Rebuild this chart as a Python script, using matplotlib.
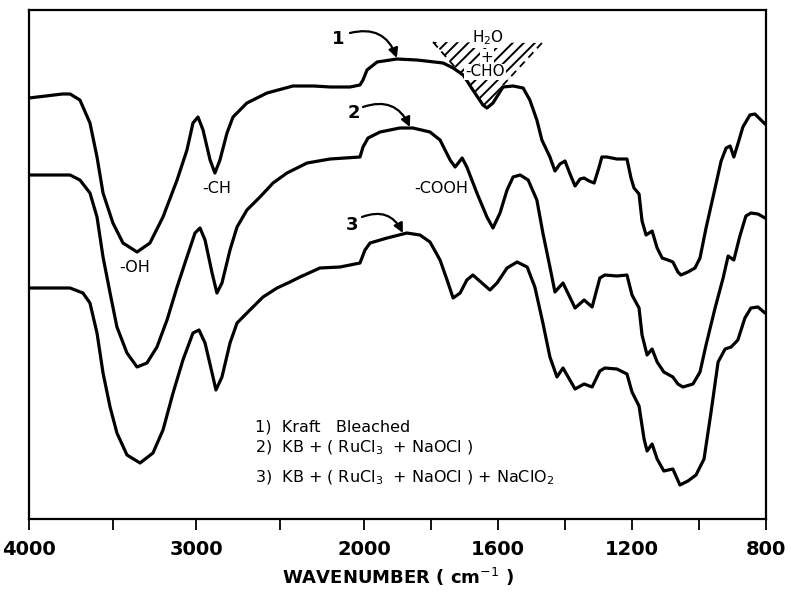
import numpy as np
import matplotlib
matplotlib.use("Agg")
import matplotlib.pyplot as plt
from matplotlib.patches import Polygon

# ---------------- data (wavenumber, cm-1 ; transmittance, arbitrary units) ----------------
wn1 = [4000, 3900, 3800, 3755, 3696, 3636, 3594, 3558, 3499, 3439, 3355, 3278, 3200, 3116,
       3057, 3021, 2991, 2961, 2919, 2890, 2860, 2818, 2782, 2699, 2579, 2424, 2300, 2200,
       2084, 2024, 2006, 1991, 1961, 1902, 1842, 1764, 1734, 1704, 1675, 1645, 1633, 1615,
       1585, 1555, 1525, 1505, 1484, 1469, 1445, 1430, 1415, 1400, 1385, 1370, 1355, 1343,
       1328, 1313, 1299, 1290, 1275, 1245, 1215, 1203, 1194, 1179, 1170, 1158, 1140, 1125,
       1110, 1093, 1078, 1063, 1054, 1033, 1012, 997, 979, 952, 934, 919, 907, 896, 884,
       869, 848, 833, 818, 803]
t1 = [421, 423, 425, 425, 419, 396, 362, 326, 296, 276, 267, 276, 302, 339,
      369, 396, 402, 389, 359, 346, 359, 386, 402, 416, 426, 433, 433, 432,
      432, 434, 439, 449, 457, 460, 459, 456, 451, 444, 429, 414, 411, 416,
      432, 433, 431, 419, 399, 379, 362, 348, 355, 358, 345, 333, 340, 341,
      338, 336, 351, 362, 362, 360, 360, 341, 331, 325, 298, 284, 288, 271,
      261, 259, 257, 247, 244, 247, 251, 261, 291, 331, 358, 371, 373, 362, 375,
      392, 404, 405, 400, 395]

wn2 = [3994, 3900, 3755, 3696, 3636, 3594, 3558, 3516, 3475, 3415, 3355, 3296, 3236, 3176,
       3116, 3057, 3009, 2979, 2949, 2907, 2878, 2848, 2800, 2758, 2699, 2621, 2543, 2460,
       2340, 2203, 2024, 2006, 1988, 1952, 1893, 1854, 1803, 1773, 1743, 1728, 1707, 1693,
       1663, 1633, 1615, 1594, 1573, 1555, 1534, 1510, 1484, 1466, 1445, 1430, 1406, 1370,
       1343, 1319, 1296, 1281, 1245, 1215, 1200, 1179, 1170, 1155, 1140, 1125, 1105, 1078,
       1063, 1048, 1018, 997, 979, 952, 928, 913, 896, 878, 860, 845, 824, 803]
t2 = [344, 344, 344, 339, 326, 302, 262, 226, 192, 166, 152, 156, 172, 199,
      232, 262, 286, 291, 279, 246, 226, 236, 269, 292, 309, 322, 336, 346,
      356, 360, 362, 372, 381, 387, 391, 391, 387, 379, 359, 352, 361, 352,
      326, 302, 291, 306, 329, 342, 344, 339, 319, 286, 252, 227, 236, 211,
      219, 212, 241, 244, 243, 244, 224, 211, 184, 164, 170, 157, 147, 142,
      135, 132, 135, 147, 174, 211, 241, 263, 259, 283, 303, 306, 305, 301]

wn3 = [3994, 3755, 3678, 3636, 3594, 3558, 3516, 3475, 3415, 3337, 3260, 3200, 3140, 3081,
       3021, 2985, 2949, 2907, 2884, 2848, 2800, 2758, 2699, 2603, 2519, 2442, 2382, 2263,
       2143, 2024, 1997, 1982, 1931, 1872, 1833, 1803, 1773, 1752, 1734, 1713, 1693, 1675,
       1648, 1624, 1603, 1573, 1543, 1513, 1490, 1466, 1445, 1424, 1406, 1370, 1343, 1319,
       1296, 1281, 1245, 1215, 1200, 1179, 1164, 1155, 1140, 1125, 1105, 1078, 1057, 1033,
       1009, 985, 964, 943, 922, 904, 884, 863, 845, 824, 803]
t3 = [231, 231, 226, 216, 186, 146, 112, 86, 64, 56, 66, 89, 126, 159,
      186, 189, 176, 146, 129, 142, 176, 196, 206, 222, 231, 237, 242, 251,
      252, 256, 269, 276, 281, 286, 284, 277, 259, 239, 221, 226, 239, 244,
      236, 229, 236, 251, 257, 252, 232, 196, 162, 142, 151, 130, 135, 132,
      148, 151, 150, 145, 127, 113, 80, 68, 75, 60, 48, 50, 34, 38,
      44, 60, 107, 157, 170, 172, 179, 201, 211, 212, 206]

tick_values = [4000, 3500, 3000, 2500, 2000, 1800, 1600, 1400, 1200, 1000, 800]
tick_labels = ["4000", "", "3000", "", "2000", "", "1600", "", "1200", "", "800"]
legend_lines = ["1)  Kraft   Bleached",
                "2)  KB + ( RuCl$_3$  + NaOCl )",
                "3)  KB + ( RuCl$_3$  + NaOCl ) + NaClO$_2$"]


# ---------------- split wavenumber scale (2x expansion below 2000 cm-1) ----------------
def fwd(w):
    w = np.asarray(w, dtype=float)
    return np.where(w >= 2000, w, 2 * w - 2000)


def inv(u):
    u = np.asarray(u, dtype=float)
    return np.where(u >= 2000, u, (u + 2000) / 2)


plt.rcParams["hatch.linewidth"] = 1.4
fig = plt.figure(figsize=(7.91, 5.95), dpi=100)
ax = fig.add_axes([29 / 791, 1 - 519 / 595, (766 - 29) / 791, (519 - 10) / 595])
ax.set_xscale("function", functions=(fwd, inv))
ax.set_xlim(4000, 800)
ax.set_ylim(0, 509)

for wn, t in ((wn1, t1), (wn2, t2), (wn3, t3)):
    ax.plot(wn, t, color="black", lw=2.3, solid_joinstyle="round", solid_capstyle="round")

ax.set_xticks(tick_values)
ax.set_xticklabels(tick_labels, fontsize=14, fontweight="bold")
ax.tick_params(axis="x", direction="out", length=8, width=1.3, pad=7)
ax.set_yticks([])
for s in ax.spines.values():
    s.set_linewidth(1.6)
ax.set_xlabel("WAVENUMBER ( cm$^{-1}$ )", fontsize=13, fontweight="bold", labelpad=5)

# band labels
ax.text(2878, 331, "-CH", fontsize=11.5, ha="center", va="center")
ax.text(3367, 251, "-OH", fontsize=11.5, ha="center", va="center")
ax.text(1770, 331, "-COOH", fontsize=11.5, ha="center", va="center")

# hatched H2O / CHO region
hatch = Polygon([(1794, 477), (1469, 476), (1585, 434), (1633, 411), (1708, 444)],
                closed=True, facecolor="none", edgecolor="black", lw=0, hatch="///")
ax.add_patch(hatch)
ax.plot([1794, 1708], [477, 444], color="black", lw=1.3, ls=(0, (4, 3)))
ax.plot([1469, 1585], [476, 434], color="black", lw=1.3, ls=(0, (4, 3)))
wb = dict(facecolor="white", edgecolor="none", pad=0.5)
ax.text(1630, 481, "H$_2$O", fontsize=11, ha="center", va="center", bbox=wb)
ax.text(1633, 462, "+", fontsize=11, ha="center", va="center", bbox=wb)
ax.text(1639, 447, "-CHO", fontsize=11, ha="center", va="center", bbox=wb)

# curve numbers with curved arrows
arrow_kw = dict(arrowstyle="-|>", color="black", lw=1.6, mutation_scale=14,
                connectionstyle="arc3,rad=-0.45", shrinkA=0, shrinkB=0)
ax.text(2155, 480, "1", fontsize=13, fontweight="bold", ha="center", va="center")
ax.annotate("", xy=(1902, 461), xytext=(2084, 486), arrowprops=arrow_kw)
ax.text(2060, 406, "2", fontsize=13, fontweight="bold", ha="center", va="center")
ax.annotate("", xy=(1863, 392), xytext=(2006, 412), arrowprops=arrow_kw)
ax.text(2072, 294, "3", fontsize=13, fontweight="bold", ha="center", va="center")
ax.annotate("", xy=(1884, 286), xytext=(2012, 302), arrowprops=arrow_kw)

# legend text
for txt, y in zip(legend_lines, [92, 71, 41]):
    ax.text(2651, y, txt, fontsize=11.5, ha="left", va="center")

fig.savefig("out.png", dpi=100)
